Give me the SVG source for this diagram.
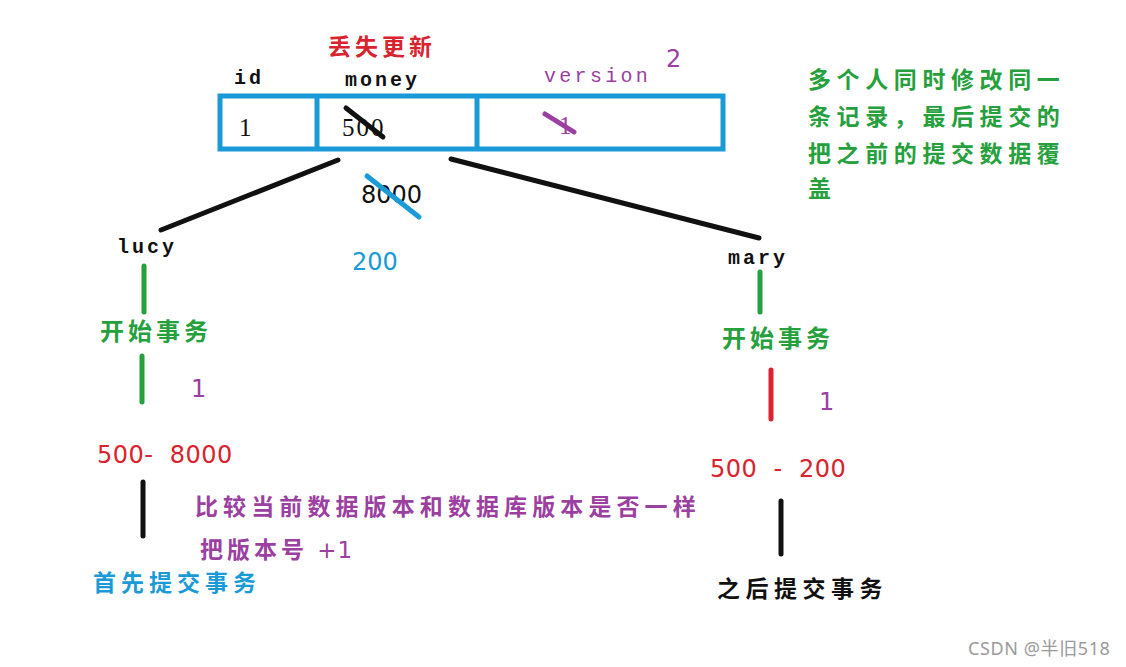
<svg xmlns="http://www.w3.org/2000/svg" width="1126" height="667" viewBox="0 0 1126 667">
<style>
.cjk{font-family:"Noto Sans CJK SC","Noto Sans",sans-serif;font-weight:700}
.mono{font-family:"Liberation Mono","DejaVu Sans Mono",monospace;font-weight:700;font-size:20px;letter-spacing:3px;fill:#111}
.serif{font-family:"Liberation Serif",serif;font-size:25px;fill:#111}
.sans{font-family:"DejaVu Sans",sans-serif;font-size:24px;white-space:pre}
.red{fill:#d9232e}.green{fill:#25a03c}.purple{fill:#9b3fa0}.blue{fill:#1a9ad6}.black{fill:#111}
.ln{stroke-linecap:round;fill:none}
</style>
<rect width="1126" height="667" fill="#fff"/>
<g id="table">
<rect x="220" y="96" width="503" height="53" fill="none" stroke="#1a9ad6" stroke-width="5"/>
<line x1="317" y1="96" x2="317" y2="149" stroke="#1a9ad6" stroke-width="5"/>
<line x1="477" y1="96" x2="477" y2="149" stroke="#1a9ad6" stroke-width="5"/>
<text x="328" y="55" class="cjk red" font-size="23" letter-spacing="4">丢失更新</text>
<text x="234" y="84" class="mono">id</text>
<text x="345" y="86" class="mono">money</text>
<text x="544" y="82" class="mono purple" style="font-weight:400;letter-spacing:3.3px">version</text>
<text x="666" y="67" class="sans purple" font-size="22">2</text>
<text x="239" y="136" class="serif">1</text>
<text x="342" y="136" class="serif" letter-spacing="2">500</text>
<line x1="346" y1="108" x2="383" y2="137" class="ln" stroke="#111" stroke-width="5"/>
<text x="559" y="134" class="serif purple">1</text>
<line x1="545" y1="114" x2="574" y2="132" class="ln" stroke="#9b3fa0" stroke-width="5"/>
</g>
<g id="note">
<text class="cjk green" font-size="23" letter-spacing="5.6">
<tspan x="808" y="88">多个人同时修改同一</tspan>
<tspan x="808" y="125">条记录，最后提交的</tspan>
<tspan x="808" y="162">把之前的提交数据覆</tspan>
<tspan x="808" y="197">盖</tspan>
</text>
</g>
<g id="connectors">
<line x1="338" y1="160" x2="161" y2="230" class="ln" stroke="#111" stroke-width="5"/>
<line x1="451" y1="159" x2="759" y2="238" class="ln" stroke="#111" stroke-width="5"/>
<line x1="144" y1="266" x2="144" y2="312" class="ln" stroke="#25a03c" stroke-width="5"/>
<line x1="142" y1="356" x2="142" y2="402" class="ln" stroke="#25a03c" stroke-width="5"/>
<line x1="143" y1="482" x2="143" y2="536" class="ln" stroke="#111" stroke-width="5"/>
<line x1="760" y1="272" x2="760" y2="312" class="ln" stroke="#25a03c" stroke-width="5"/>
<line x1="771" y1="370" x2="771" y2="419" class="ln" stroke="#e0202e" stroke-width="5"/>
<line x1="781" y1="501" x2="781" y2="554" class="ln" stroke="#111" stroke-width="5"/>
</g>
<g id="values">
<text x="361" y="203" class="sans black">8000</text>
<line x1="367" y1="176" x2="419" y2="217" class="ln" stroke="#1a9ad6" stroke-width="5"/>
<text x="352" y="270" class="sans blue">200</text>
</g>
<g id="lucy">
<text x="117" y="253" class="mono">lucy</text>
<text x="100" y="340" class="cjk green" font-size="24" letter-spacing="4">开始事务</text>
<text x="191" y="397" class="sans purple" font-size="20">1</text>
<text x="97" y="463" class="sans red" letter-spacing="0.5">500-  8000</text>
<text x="93" y="591" class="cjk blue" font-size="23" letter-spacing="5">首先提交事务</text>
</g>
<g id="compare">
<text x="195" y="515" class="cjk purple" font-size="23" letter-spacing="5.1">比较当前数据版本和数据库版本是否一样</text>
<text x="200" y="558" class="cjk purple" font-size="23" letter-spacing="4">把版本号 <tspan font-family="DejaVu Sans, sans-serif" font-weight="400" letter-spacing="1">+1</tspan></text>
</g>
<g id="mary">
<text x="728" y="264" class="mono">mary</text>
<text x="722" y="347" class="cjk green" font-size="24" letter-spacing="4">开始事务</text>
<text x="819" y="410" class="sans purple" font-size="20">1</text>
<text x="710" y="477" class="sans red" letter-spacing="0.5">500  -  200</text>
<text x="717" y="597" class="cjk black" font-size="23" letter-spacing="5.5">之后提交事务</text>
</g>
<text x="968" y="655" font-family="Noto Sans, Noto Sans CJK SC, sans-serif" font-size="18" letter-spacing="0.6" fill="#9a9a9a">CSDN @半旧518</text>
</svg>
